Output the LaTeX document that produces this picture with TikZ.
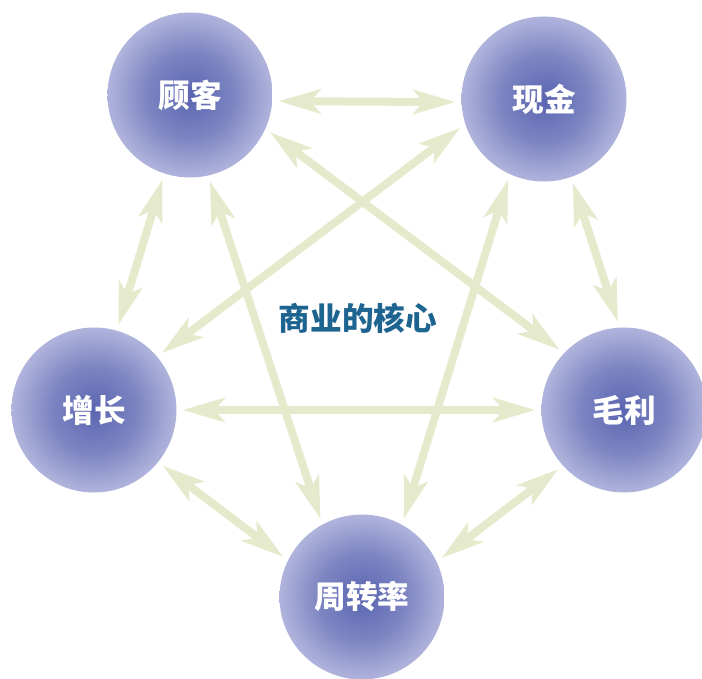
\documentclass[tikz,border=0pt]{standalone}
\usepackage{fontspec}
\newfontfamily\cjk{Noto Sans CJK SC}
\usetikzlibrary{arrows.meta}

\definecolor{ballin}{HTML}{5A65B0}
\definecolor{ballout}{HTML}{B0B4DC}
\definecolor{linkgreen}{HTML}{E4EACB}
\definecolor{titleblue}{HTML}{1E6490}
\pgfdeclareradialshading{ball}{\pgfpoint{0bp}{0bp}}{color(0bp)=(ballin); color(13bp)=(ballin!60!ballout); color(25bp)=(ballout); color(50bp)=(ballout)}

\tikzset{topic/.style={circle,shade,shading=ball,minimum size=4.95cm,inner sep=0pt,outer sep=0.18cm,
		text=white,font=\cjk\bfseries\fontsize{27}{27}\selectfont}
}
\tikzstyle{link}=[linkgreen,line width=0.24cm,
	{Stealth[length=1.26cm,width=0.72cm,inset=0.3cm]}-{Stealth[length=1.26cm,width=0.72cm,inset=0.3cm]}]

\begin{document}
\begin{tikzpicture}[x=0.03cm,y=-0.03cm]
	\useasboundingbox (0,0) rectangle (702,679);
	% the five balls
	\foreach \nm/\x/\y/\txt in {gk/190/95/顾客, xj/544/99/现金, zz/94/410/增长, ml/624/410/毛利, zzl/362/597/周转率}{
		\node (\nm)[topic] at (\x,\y) {\txt};
	}
	\node (title) at (358,318) {\cjk\bfseries\fontsize{27}{27}\selectfont\color{titleblue}商业的核心};
	% double arrows between them
	\foreach \a/\b in {gk.356/xj.182, gk.335/ml.137, xj.199/zz.40, gk.283/zzl.118, xj.246/zzl.62,
		gk.252/zz.74, xj.289/ml.94, zz.0/ml.180, zz.321/zzl.153, ml.222/zzl.26}{
		\draw[link] (\a) -- (\b);
	}
\end{tikzpicture}
\end{document}
